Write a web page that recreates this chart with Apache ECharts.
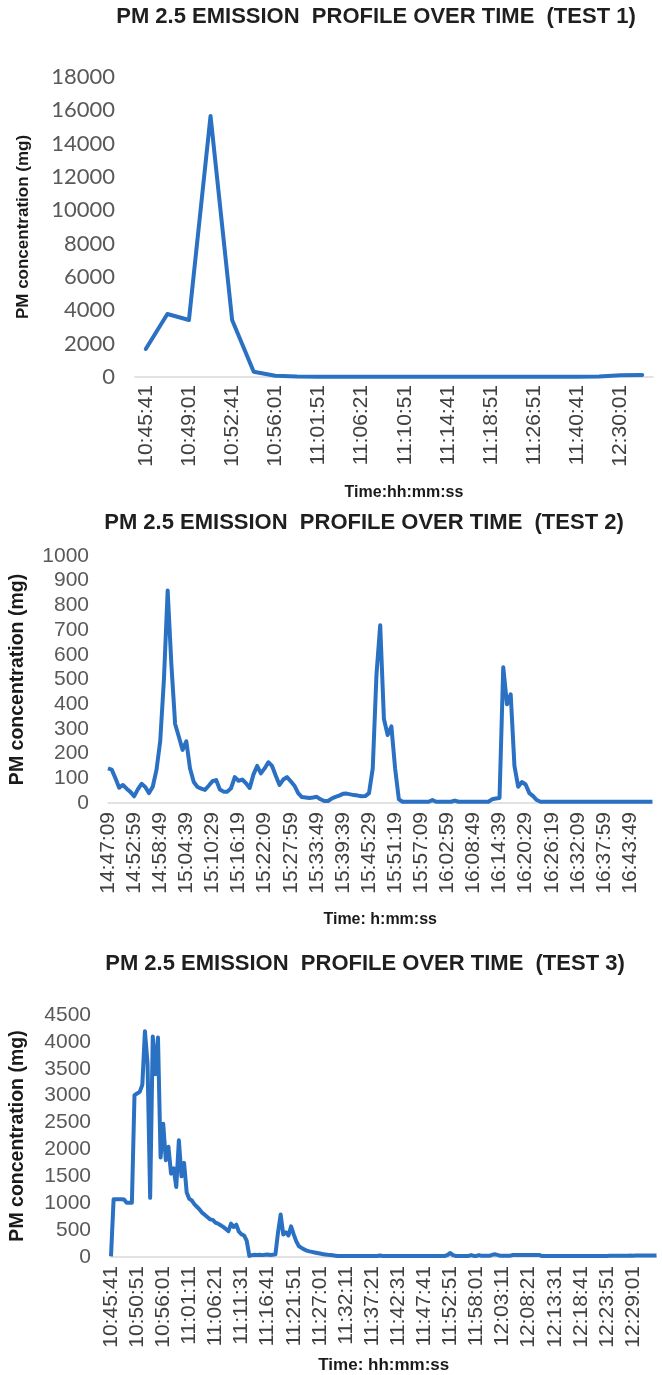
<!DOCTYPE html>
<html>
<head>
<meta charset="utf-8">
<script src="https://cdn.jsdelivr.net/npm/echarts@6/dist/echarts.min.js"></script>
<style>
  html, body { margin: 0; padding: 0; background: #ffffff; }
  #chart { width: 662px; height: 1375px; }
</style>
</head>
<body>
<div id="chart"></div>
<script>
// ---------------- DATA ----------------
// Test 1
const categories1 = ['10:45:41','10:47:21','10:49:01','10:50:51','10:52:41','10:54:21','10:56:01','10:58:51',
  '11:01:51','11:04:01','11:06:21','11:08:31','11:10:51','11:12:41','11:14:41','11:16:41',
  '11:18:51','11:22:51','11:26:51','11:33:41','11:40:41','11:55:21','12:30:01','12:45:01'];
const values1 = [1680, 3780, 3420, 15660, 3420, 320, 80, 30, 20, 20, 20, 20,
  20, 20, 20, 20, 20, 20, 20, 20, 20, 30, 110, 120];

// Test 2 (one sample every 50 s, tick label every 7 samples)
const tickLabels2 = ['14:47:09','14:52:59','14:58:49','15:04:39','15:10:29','15:16:19','15:22:09',
  '15:27:59','15:33:49','15:39:39','15:45:29','15:51:19','15:57:09','16:02:59','16:08:49',
  '16:14:39','16:20:29','16:26:19','16:32:09','16:37:59','16:43:49'];
const values2 = [
  140,135,100,62,73,58,45,27,55,78,65,40,66,134,250,500,860,
  560,320,268,215,250,140,85,65,58,53,70,88,93,55,46,46,60,
  105,90,95,80,61,115,150,120,140,165,150,110,73,95,105,88,70,
  40,24,22,20,22,25,15,8,8,18,25,30,37,38,35,32,30,27,28,40,
  140,520,720,340,275,310,140,15,5,
  5,5,5,5,5,5,5,12,5,5,5,5,5,10,5,5,5,5,5,5,5,5,5,15,18,20,
  550,400,440,150,66,85,75,40,28,12,5,
  5,5,5,5,5,5,5,5,5,5,5,5,5,5,5,5,5,5,5,5,5,5,5,5,5,5,5,5,5,5
];

// Test 3 (one sample every 31 s, tick label every 10 samples)
const tickLabels3 = ['10:45:41','10:50:51','10:56:01','11:01:11','11:06:21','11:11:31','11:16:41',
  '11:21:51','11:27:01','11:32:11','11:37:21','11:42:31','11:47:41','11:52:51','11:58:01',
  '12:03:11','12:08:21','12:13:31','12:18:41','12:23:51','12:29:01'];
const values3 = [
  10,1075,1075,1075,1075,1070,1010,1008,1008,3010,3040,3070,3200,
  4200,3600,1100,4100,3400,4080,1850,2480,1800,2050,1550,1650,1300,2170,1500,1750,1200,
  1080,1050,980,930,880,820,780,740,700,690,640,620,590,560,520,480,620,560,600,470,420,400,300,
  20,35,40,38,42,35,40,45,38,40,50,
  460,790,420,460,400,570,420,290,200,170,140,120,105,95,85,75,65,55,48,42,38,32,25,18,
  18,18,20,18,18,18,20,18,18,18,18,20,18,18,18,
  28,
  18,18,20,18,18,18,18,20,18,18,18,18,18,20,18,18,18,18,18,20,18,18,18,18,20,
  40,75,35,
  20,20,20,20,20,20,
  35,20,20,35,
  22,22,22,22,
  40,50,40,
  25,25,25,25,25,
  38,38,38,38,38,38,38,38,38,38,38,
  20,20,20,20,20,20,20,20,20,20,20,20,20,20,20,20,20,20,20,20,20,20,20,20,20,20,
  22,22,24,22,24,25,24,25,26,25,26,28,26,27,28,27,28,28,28
];

const yTicks1 = { max: 18000, interval: 2000 };
const yTicks2 = { max: 1000, interval: 100 };
const yTicks3 = { max: 4500, interval: 500 };

// ---------------- helpers ----------------
function toSec(s) { const p = s.split(':').map(Number); return p[0] * 3600 + p[1] * 60 + p[2]; }
function pad(n) { return (n < 10 ? '0' : '') + n; }
function fmt(t) { return pad(Math.floor(t / 3600)) + ':' + pad(Math.floor(t % 3600 / 60)) + ':' + pad(t % 60); }
function buildCats(ticks, per, step, n) {
  const t0 = toSec(ticks[0]);
  const out = [];
  for (let i = 0; i < n; i++) {
    if (i % per === 0 && ticks[i / per]) out.push(ticks[i / per]);
    else out.push(fmt(t0 + i * step));
  }
  return out;
}
const categories2 = buildCats(tickLabels2, 7, 50, values2.length);
const categories3 = buildCats(tickLabels3, 10, 31, values3.length);

// ---------------- chart ----------------
const BLUE = '#2a71c3';
const SANS = '"Liberation Sans", Arial, sans-serif';
const titleStyle = { fontFamily: SANS, fontWeight: 'bold', fontSize: 22, color: '#1f1f1f' };
function nameStyle(size, extra) {
  return Object.assign({ fontFamily: SANS, fontWeight: 'bold', fontSize: size, color: '#1a1a1a' }, extra || {});
}

function xAxis(idx, data, opts) {
  return {
    type: 'category', gridIndex: idx, data: data, boundaryGap: opts.gap,
    axisTick: { show: false },
    axisLine: { lineStyle: { color: '#d9d9d9', width: 1.5 } },
    axisLabel: { interval: opts.interval, rotate: 90, fontSize: opts.fontSize, color: '#404040',
      fontFamily: SANS, margin: opts.margin },
    name: opts.name, nameLocation: 'middle', nameGap: opts.nameGap,
    nameTextStyle: nameStyle(opts.nameSize, opts.nameExtra)
  };
}
function yAxis(idx, ticks, opts) {
  return {
    type: 'value', gridIndex: idx, min: 0, max: ticks.max, interval: ticks.interval,
    splitLine: { show: false }, axisLine: { show: false }, axisTick: { show: false },
    axisLabel: { fontSize: opts.fontSize, color: '#595959', fontFamily: opts.font, margin: opts.margin,
      formatter: function (v) { return String(v); } },
    name: 'PM concentration (mg)', nameLocation: 'middle', nameRotate: 90,
    nameGap: opts.nameGap, nameTextStyle: nameStyle(opts.nameSize)
  };
}

const chart = echarts.init(document.getElementById('chart'), null, { renderer: 'canvas' });
chart.setOption({
  animation: false,
  backgroundColor: '#ffffff',
  title: [
    { text: 'PM 2.5 EMISSION  PROFILE OVER TIME  (TEST 1)', left: 376, top: 6, textAlign: 'center', padding: 0, textStyle: titleStyle },
    { text: 'PM 2.5 EMISSION  PROFILE OVER TIME  (TEST 2)', left: 364, top: 512, textAlign: 'center', padding: 0, textStyle: titleStyle },
    { text: 'PM 2.5 EMISSION  PROFILE OVER TIME  (TEST 3)', left: 365, top: 953, textAlign: 'center', padding: 0, textStyle: titleStyle }
  ],
  grid: [
    { left: 135, top: 77, width: 518, height: 300 },
    { left: 108, top: 556, width: 544.4, height: 247 },
    { left: 111, top: 1015, width: 545.5, height: 255 }
  ],
  xAxis: [
    xAxis(0, categories1, { gap: true, interval: 1, fontSize: 21, margin: 8, name: 'Time:hh:mm:ss', nameGap: 108,
      nameSize: 16, nameExtra: { padding: [0, 0, 0, 20] } }),
    xAxis(1, categories2, { gap: false, interval: 6, fontSize: 21, margin: 9, name: 'Time: h:mm:ss', nameGap: 109,
      nameSize: 16 }),
    xAxis(2, categories3, { gap: false, interval: 9, fontSize: 21, margin: 9, name: 'Time: hh:mm:ss', nameGap: 100,
      nameSize: 17 })
  ],
  yAxis: [
    yAxis(0, yTicks1, { fontSize: 22, font: 'Lato, "Open Sans", sans-serif', margin: 20, nameGap: 103, nameSize: 17 }),
    yAxis(1, yTicks2, { fontSize: 21, font: SANS, margin: 19, nameGap: 80, nameSize: 19.5 }),
    yAxis(2, yTicks3, { fontSize: 21, font: SANS, margin: 20, nameGap: 83, nameSize: 19.5 })
  ],
  series: [
    { type: 'line', xAxisIndex: 0, yAxisIndex: 0, data: values1, showSymbol: false,
      lineStyle: { color: BLUE, width: 4, cap: 'round', join: 'round' }, itemStyle: { color: BLUE } },
    { type: 'line', xAxisIndex: 1, yAxisIndex: 1, data: values2, showSymbol: false,
      lineStyle: { color: BLUE, width: 4, join: 'round' }, itemStyle: { color: BLUE } },
    { type: 'line', xAxisIndex: 2, yAxisIndex: 2, data: values3, showSymbol: false,
      lineStyle: { color: BLUE, width: 4, join: 'round' }, itemStyle: { color: BLUE } }
  ]
});
</script>
</body>
</html>
